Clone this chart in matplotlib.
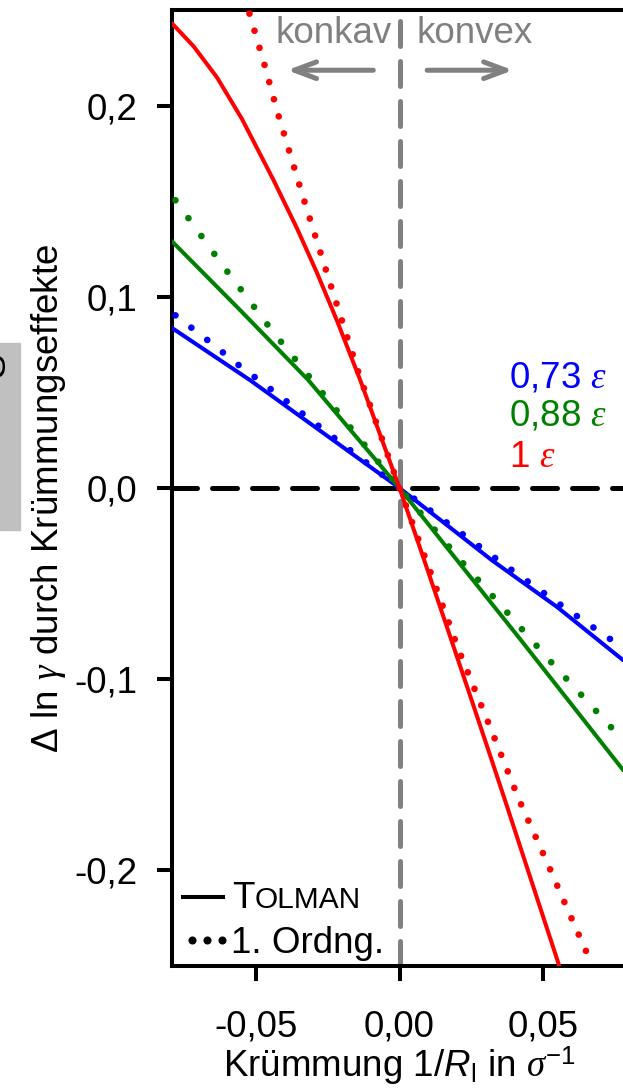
import matplotlib
matplotlib.use('Agg')
import matplotlib.pyplot as plt
from matplotlib.patches import Rectangle

plt.rcParams['font.family'] = ['Liberation Sans', 'DejaVu Sans']
plt.rcParams['mathtext.fontset'] = 'custom'
plt.rcParams['mathtext.rm'] = 'Liberation Sans'
plt.rcParams['mathtext.it'] = 'Liberation Serif:italic'   # greek symbols
plt.rcParams['mathtext.sf'] = 'Liberation Sans:italic'    # italic latin symbols
plt.rcParams['mathtext.bf'] = 'Liberation Sans:bold'

# curvature 1/R_l in 1/sigma vs. delta ln gamma
red_tolman_x = [-0.079, -0.0715, -0.0634, -0.0547, -0.0438, -0.0356, -0.0287, -0.0217, -0.0136,
                0.0, 0.0083, 0.0162, 0.0241, 0.0319, 0.0367, 0.0410, 0.0556]
red_tolman_y = [0.243, 0.231, 0.2148, 0.193, 0.1612, 0.1358, 0.1127, 0.0875, 0.0563,
                0.0, -0.0365, -0.0715, -0.1067, -0.1418, -0.1636, -0.1834, -0.2505]
red_first_x = [-0.0521, -0.0471, -0.0424, -0.0337, -0.0230, -0.0139, 0.0,
               0.0101, 0.0206, 0.0322, 0.0416, 0.0514, 0.0588, 0.0665]
red_first_y = [0.2481, 0.2225, 0.1967, 0.1532, 0.1018, 0.0588, 0.0,
               -0.0413, -0.0849, -0.1278, -0.1634, -0.1963, -0.2219, -0.2481]

green_tolman_x = [-0.079, -0.0552, -0.0316, 0.0, 0.0200, 0.0413, 0.0777]
green_tolman_y = [0.129, 0.0928, 0.0563, 0.0, -0.0378, -0.0779, -0.1476]
green_first_x = [-0.0778, -0.0615, -0.0439, -0.0303, 0.0, 0.0217, 0.0321, 0.0523, 0.0770]
green_first_y = [0.1505, 0.1166, 0.0816, 0.0563, 0.0, -0.0387, -0.0561, -0.0905, -0.1309]

blue_tolman_x = [-0.079, -0.0518, 0.0, 0.0321, 0.0547, 0.0777]
blue_tolman_y = [0.0837, 0.0563, 0.0, -0.0378, -0.0622, -0.0901]
blue_first_x = [-0.0778, -0.0657, -0.0543, -0.0487, 0.0, 0.0375, 0.0545, 0.0772]
blue_first_y = [0.0903, 0.0762, 0.0624, 0.0563, 0.0, -0.0413, -0.0596, -0.0832]

eps_labels = ['0,73 $\\varepsilon$', '0,88 $\\varepsilon$', '1 $\\varepsilon$']
eps_label_y = [0.0528, 0.0328, 0.011]

x_ticks = [-0.05, 0.0, 0.05]
x_tick_labels = ['-0,05', '0,00', '0,05']
y_ticks = [-0.2, -0.1, 0.0, 0.1, 0.2]
y_tick_labels = ['-0,2', '-0,1', '0,0', '0,1', '0,2']

FS = 26.5
GRAY = '#808080'

fig = plt.figure(figsize=(6.23, 10.88), dpi=100)
ax = fig.add_axes([172 / 623, 122 / 1088, 455 / 623, 956 / 1088])
ax.set_xlim(-0.079, 0.079)
ax.set_ylim(-0.25, 0.25)

# reference lines through the origin
ax.axhline(0, color='black', lw=3.6, linestyle=(0, (5, 3)), dash_capstyle='round', zorder=1)
ax.axvline(0, color=GRAY, lw=3.6, linestyle=(0, (5, 3)), dash_capstyle='round', zorder=1)

series = [
    (blue_tolman_x, blue_tolman_y, blue_first_x, blue_first_y, 'blue', 3.0),
    (green_tolman_x, green_tolman_y, green_first_x, green_first_y, 'green', 3.3),
    (red_tolman_x, red_tolman_y, red_first_x, red_first_y, 'red', 2.66),
]
for i, (tx, ty, fx, fy, col, gap) in enumerate(series):
    ax.plot(tx, ty, color=col, lw=2.9, solid_capstyle='round', solid_joinstyle='round',
            zorder=3 + i)
    ax.plot(fx, fy, color=col, lw=4.8, linestyle=(0, (0.01, gap)),
            dash_capstyle='round', zorder=3 + i)

for lab, y, col in zip(eps_labels, eps_label_y, ['blue', 'green', 'red']):
    ax.text(0.0381, y, lab, color=col, fontsize=FS, ha='left', va='baseline')

ax.text(-0.0028, 0.2326, 'konkav', color=GRAY, fontsize=FS, ha='right', va='baseline')
ax.text(0.0058, 0.2326, 'konvex', color=GRAY, fontsize=FS, ha='left', va='baseline')
arrow_kw = dict(arrowstyle='->,head_length=0.8,head_width=0.3', color=GRAY, lw=3.6,
                mutation_scale=20, capstyle='round', joinstyle='round', shrinkA=0, shrinkB=0)
ax.annotate('', xy=(-0.039, 0.2185), xytext=(-0.0091, 0.2185), arrowprops=arrow_kw)
ax.annotate('', xy=(0.0394, 0.2185), xytext=(0.0096, 0.2185), arrowprops=arrow_kw)

# legend drawn by hand for the small-caps name
ax.plot([0.024, 0.112], [0.0722, 0.0722], color='black', lw=2.9, transform=ax.transAxes)
ax.plot([0.044, 0.077, 0.110], [0.0272] * 3, 'o', color='black', ms=4.8,
        transform=ax.transAxes)
t1 = ax.text(0.132, 0.0603, 'T', fontsize=FS, ha='left', va='baseline', transform=ax.transAxes)
ax.annotate('OLMAN', xy=(1, 0.0603), xycoords=(t1, 'axes fraction'), fontsize=21.5,
            ha='left', va='baseline')
ax.text(0.130, 0.0139, '1. Ordng.', fontsize=FS, ha='left', va='baseline',
        transform=ax.transAxes)

ax.set_xticks(x_ticks)
ax.set_xticklabels(x_tick_labels)
ax.set_yticks(y_ticks)
ax.set_yticklabels(y_tick_labels)
ax.tick_params(direction='out', length=11, width=2.9, labelsize=FS)
ax.tick_params(axis='x', pad=20)
ax.tick_params(axis='y', pad=14)
for sp in ax.spines.values():
    sp.set_linewidth(2.9)

fig.text(399.5 / 623, 11 / 1088,
         'Krümmung 1/$\\mathsf{R}_\\mathrm{l}$ in $\\sigma^{\\mathrm{-1}}$',
         fontsize=FS, ha='center', va='baseline')
fig.text(68 / 623, 0.5418, 'Δ ln $\\gamma$ durch Krümmungseffekte', fontsize=FS,
         rotation=90, ha='right', va='center')

# neighbouring panel edge on the left
fig.patches.append(Rectangle((0, 558 / 1088), 20 / 623, 187 / 1088,
                             transform=fig.transFigure, color='#c0c0c0', zorder=0))
fig.text(12 / 623, (1088 - 365) / 1088, 'S', fontsize=FS, rotation=90,
         ha='right', va='center')

fig.savefig('out.png', dpi=100)
